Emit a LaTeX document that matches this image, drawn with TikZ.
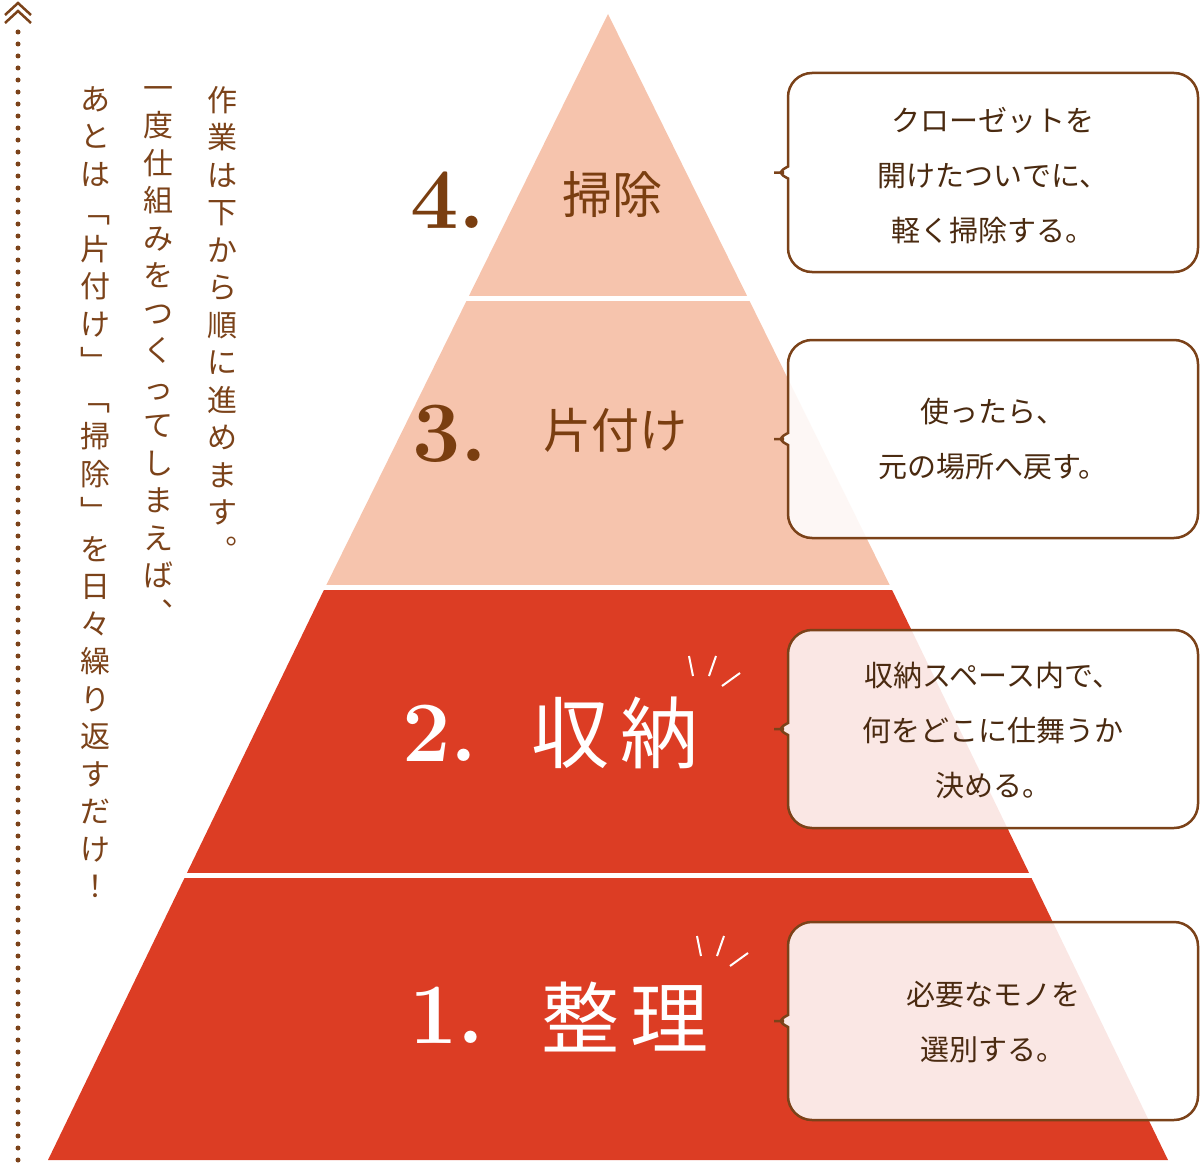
\documentclass[tikz,border=0pt]{standalone}
\usepackage{fontspec}
\newfontfamily\jp{Noto Sans CJK JP}
\begin{document}
\begin{tikzpicture}[x=1pt,y=-1pt,
 bx/.style={draw=brn,line width=2.5pt,fill=white,fill opacity=0.88,rounded corners=24},
 bt/.style={text=txt,font=\jp\fontsize{29}{55}\selectfont,align=center},
 vt/.style={text=brn,font=\jp\fontsize{30}{37.5}\selectfont,align=center,anchor=north,inner sep=0},
 num/.style={font=\bfseries\fontsize{86}{86}\selectfont},
 spk/.style={draw=white,line width=2pt}]
\definecolor{brn}{HTML}{7B4219}
\definecolor{txt}{HTML}{4A2A10}
\definecolor{pch}{HTML}{F6C4AD}
\definecolor{rd}{HTML}{DC3D24}
\definecolor{tb}{HTML}{7A3E10}
\useasboundingbox (0,0) rectangle (1200,1164);
% pyramid
\fill[rd] (48,1160) -- (1168,1160) -- (890.9,587.5) -- (325.1,587.5) -- cycle;
\fill[pch] (325.1,587.5) -- (890.9,587.5) -- (608,14) -- cycle;
\foreach \y in {298,587.5,875.5}{
 \pgfmathsetmacro\h{0.4887*(\y-14)}
 \draw[white,line width=5pt] ({608-\h-5},\y) -- ({608+\h+5},\y);}
% titles
\node[num,text=tb] (n4) at (448,200) {4.};
\node[text=tb,font=\jp\fontsize{50}{50}\selectfont] (t4) at (612,195) {掃除};
\node[num,text=tb] (n3) at (450,434) {3.};
\node[text=tb,font=\jp\fontsize{48}{48}\selectfont] (t3) at (615,430) {片付け};
\node[num,text=white] (n2) at (440,733) {2.};
\node[text=white,font=\jp\fontsize{78}{78}\selectfont] (t2) at (615,733) {収\hspace{0.15em}納};
\node[num,text=white] (n1) at (447,1015) {1.};
\node[text=white,font=\jp\fontsize{78}{78}\selectfont] (t1) at (625,1017) {整\hspace{0.15em}理};
\draw[spk] (689,656) -- (693,676);
\draw[spk] (716,656) -- (709,676);
\draw[spk] (740,673) -- (722,686);
\draw[spk] (697,936) -- (701,956);
\draw[spk] (724,936) -- (717,956);
\draw[spk] (748,953) -- (730,966);
% callouts
\foreach \T/\B [count=\i] in {73/272,340/538,630/828,922/1120}{
 \pgfmathsetmacro\M{(\T+\B)/2}
 \draw[bx] (788,\T) -- (1198,\T) -- (1198,\B) -- (788,\B) -- (788,\M+30)
   .. controls (788,\M+6) and (776,\M) .. (760,\M)
   .. controls (776,\M) and (788,\M-6) .. (788,\M-30) -- cycle;
}
\node[bt] (c4) at (993,176) {クローゼットを\\開けたついでに、\\軽く掃除する。};
\node[bt] (c3) at (993,439) {使ったら、\\元の場所へ戻す。};
\node[bt] (c2) at (993,730) {収納スペース内で、\\何をどこに仕舞うか\\決める。};
\node[bt] (c1) at (993,1022) {必要なモノを\\選別する。};
% vertical text
\node[vt] (v1) at (222,86) {作\\業\\は\\下\\か\\ら\\順\\に\\進\\め\\ま\\す\\︒};
\node[vt] (v2) at (158,86) {一\\度\\仕\\組\\み\\を\\つ\\く\\っ\\て\\し\\ま\\え\\ば\\︑};
\node[vt] (v3) at (95,86) {あ\\と\\は\\﹁\\片\\付\\け\\﹂\\﹁\\掃\\除\\﹂\\を\\日\\々\\繰\\り\\返\\す\\だ\\け\\！};
% dotted arrow
\coordinate (ab) at (18,1160);
\coordinate (at) at (18,30);
\draw[brn,line width=5pt,line cap=round,dash pattern=on 0pt off 12pt] (ab) -- (at);
\draw[brn,line width=2.5pt] (5,15) -- (18,3) -- (31,15);
\draw[brn,line width=2.5pt] (5,23) -- (18,11) -- (31,23);
\end{tikzpicture}
\end{document}
